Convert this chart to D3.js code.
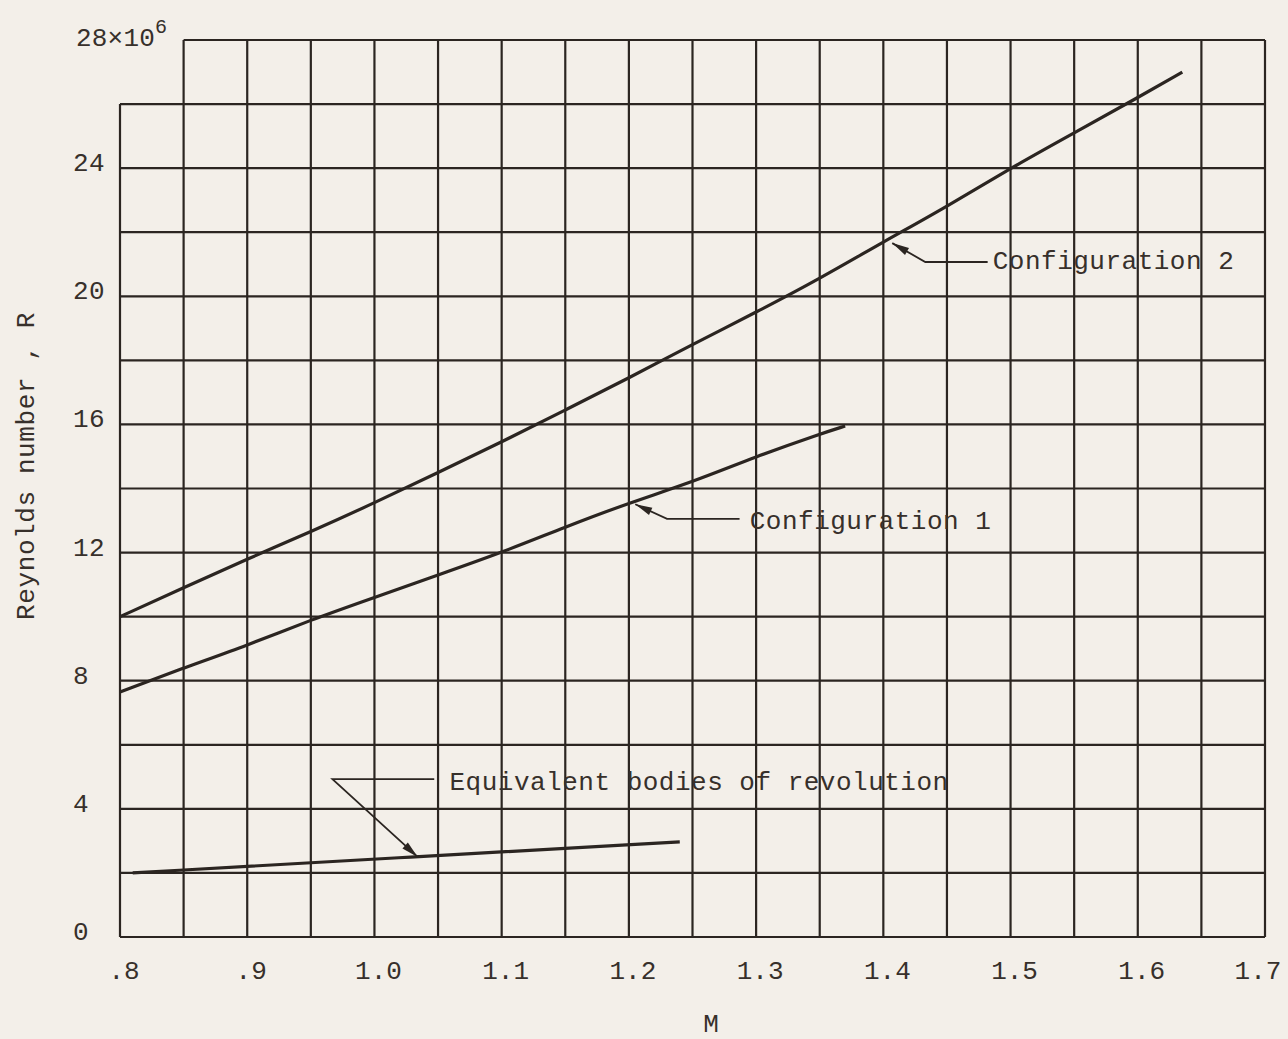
<!DOCTYPE html>
<html>
<head>
<meta charset="utf-8">
<script src="https://cdn.jsdelivr.net/npm/d3@7/dist/d3.min.js"></script>
<style>
  body { margin: 0; background: #f3efe9; }
  svg { display: block; }
  text { font-family: "Liberation Mono", "DejaVu Sans Mono", monospace; fill: #37302b; }
</style>
</head>
<body>
<svg class="chart"></svg>
<script>

var width = 1288,
    height = 1039;

// tick labels
var machTicks  = [0.8, 0.9, 1.0, 1.1, 1.2, 1.3, 1.4, 1.5, 1.6, 1.7];
var machLabels = [".8", ".9", "1.0", "1.1", "1.2", "1.3", "1.4", "1.5", "1.6", "1.7"];
var rTicks     = [0, 4, 8, 12, 16, 20, 24];
var rLabels    = ["0", "4", "8", "12", "16", "20", "24"];

// curves (R in millions)
var config2M = [0.80, 0.85, 0.90, 0.95, 1.00, 1.05, 1.10, 1.15, 1.20, 1.25, 1.30, 1.35, 1.40, 1.45, 1.50, 1.55, 1.60, 1.635];
var config2R = [10.0, 10.9, 11.8, 12.65, 13.55, 14.5, 15.45, 16.45, 17.45, 18.5, 19.5, 20.55, 21.7, 22.8, 24.0, 25.1, 26.2, 27.0];

var config1M = [0.80, 0.85, 0.90, 0.95, 1.00, 1.05, 1.10, 1.15, 1.20, 1.25, 1.30, 1.35, 1.37];
var config1R = [7.65, 8.4, 9.1, 9.9, 10.6, 11.3, 12.0, 12.8, 13.55, 14.2, 15.0, 15.7, 15.95];

var bodiesM = [0.81, 1.03, 1.24];
var bodiesR = [2.0, 2.5, 2.97];

var x = d3.scaleLinear().domain([0.8, 1.7]).range([120, 1265]);
var y = d3.scaleLinear().domain([0, 28]).range([937, 40]);

var chart = d3.select(".chart")
    .attr("width", width)
    .attr("height", height);

var ink = "#2b2521";

// grid (the top-left cell is left open, as on the sheet)
var grid = chart.append("g")
    .attr("stroke", ink)
    .attr("stroke-width", 2.2)
    .attr("fill", "none");

d3.range(0, 19).forEach(function(i) {
    var m = 0.8 + i * 0.05;
    grid.append("line")
        .attr("x1", x(m)).attr("x2", x(m))
        .attr("y1", y(0)).attr("y2", i == 0 ? y(26) : y(28));
});
d3.range(0, 15).forEach(function(i) {
    var r = i * 2;
    grid.append("line")
        .attr("x1", i == 14 ? x(0.85) : x(0.8)).attr("x2", x(1.7))
        .attr("y1", y(r)).attr("y2", y(r));
});

// curves
var line = d3.line()
    .x(function(d) { return x(d[0]); })
    .y(function(d) { return y(d[1]); })
    .curve(d3.curveBasis);

[[config2M, config2R], [config1M, config1R], [bodiesM, bodiesR]].forEach(function(s) {
    chart.append("path")
        .datum(d3.zip(s[0], s[1]))
        .attr("d", line)
        .attr("fill", "none")
        .attr("stroke", ink)
        .attr("stroke-width", 3.2);
});

// axis labels
chart.append("g").selectAll("text")
    .data(machTicks)
  .enter().append("text")
    .attr("x", function(d) { return Math.min(x(d) + 4, 1258); })
    .attr("y", 979)
    .attr("text-anchor", "middle")
    .attr("font-size", 26)
    .text(function(d, i) { return machLabels[i]; });

chart.append("g").selectAll("text")
    .data(rTicks)
  .enter().append("text")
    .attr("x", 73)
    .attr("y", function(d) { return y(d) + 3; })
    .attr("font-size", 26)
    .attr("letter-spacing", 0.5)
    .text(function(d, i) { return rLabels[i]; });

var topLabel = chart.append("text")
    .attr("x", 76)
    .attr("y", y(28) + 6)
    .attr("font-size", 26)
    .attr("letter-spacing", 0.2);
topLabel.append("tspan").text("28×10");
topLabel.append("tspan").attr("font-size", 20).attr("dy", -13).text("6");

chart.append("text")
    .attr("x", 711)
    .attr("y", 1032)
    .attr("text-anchor", "middle")
    .attr("font-size", 26)
    .text("M");

chart.append("text")
    .attr("transform", "translate(34,466) rotate(-90)")
    .attr("text-anchor", "middle")
    .attr("font-size", 26)
    .attr("letter-spacing", 0.6)
    .text("Reynolds number , R");

// annotations: leader lines in data units [M, R]
var notes = [
    { text: "Configuration 2", at: [1.486, 20.85], path: [[1.482, 21.07], [1.433, 21.07], [1.407, 21.66]] },
    { text: "Configuration 1", at: [1.295, 12.73], path: [[1.287, 13.05], [1.230, 13.05], [1.205, 13.51]] },
    { text: "Equivalent bodies of revolution", at: [1.059, 4.59], path: [[1.047, 4.93], [0.967, 4.93], [1.034, 2.50]] }
];

notes.forEach(function(n) {
    var pts = n.path.map(function(p) { return [x(p[0]), y(p[1])]; });
    chart.append("path")
        .attr("d", d3.line()(pts))
        .attr("fill", "none")
        .attr("stroke", ink)
        .attr("stroke-width", 1.8);

    var a = pts[pts.length - 2], b = pts[pts.length - 1];
    var dx = b[0] - a[0], dy = b[1] - a[1];
    var len = Math.sqrt(dx * dx + dy * dy);
    var ux = dx / len, uy = dy / len;
    var L = 17, W = 4;
    var bx = b[0] - ux * L, by = b[1] - uy * L;
    chart.append("path")
        .attr("d", "M" + b[0] + "," + b[1] +
                   "L" + (bx - uy * W) + "," + (by + ux * W) +
                   "L" + (bx + uy * W) + "," + (by - ux * W) + "Z")
        .attr("fill", ink);

    chart.append("text")
        .attr("x", x(n.at[0]))
        .attr("y", y(n.at[1]))
        .attr("font-size", 26)
        .attr("letter-spacing", 0.5)
        .text(n.text);
});

</script>
</body>
</html>
